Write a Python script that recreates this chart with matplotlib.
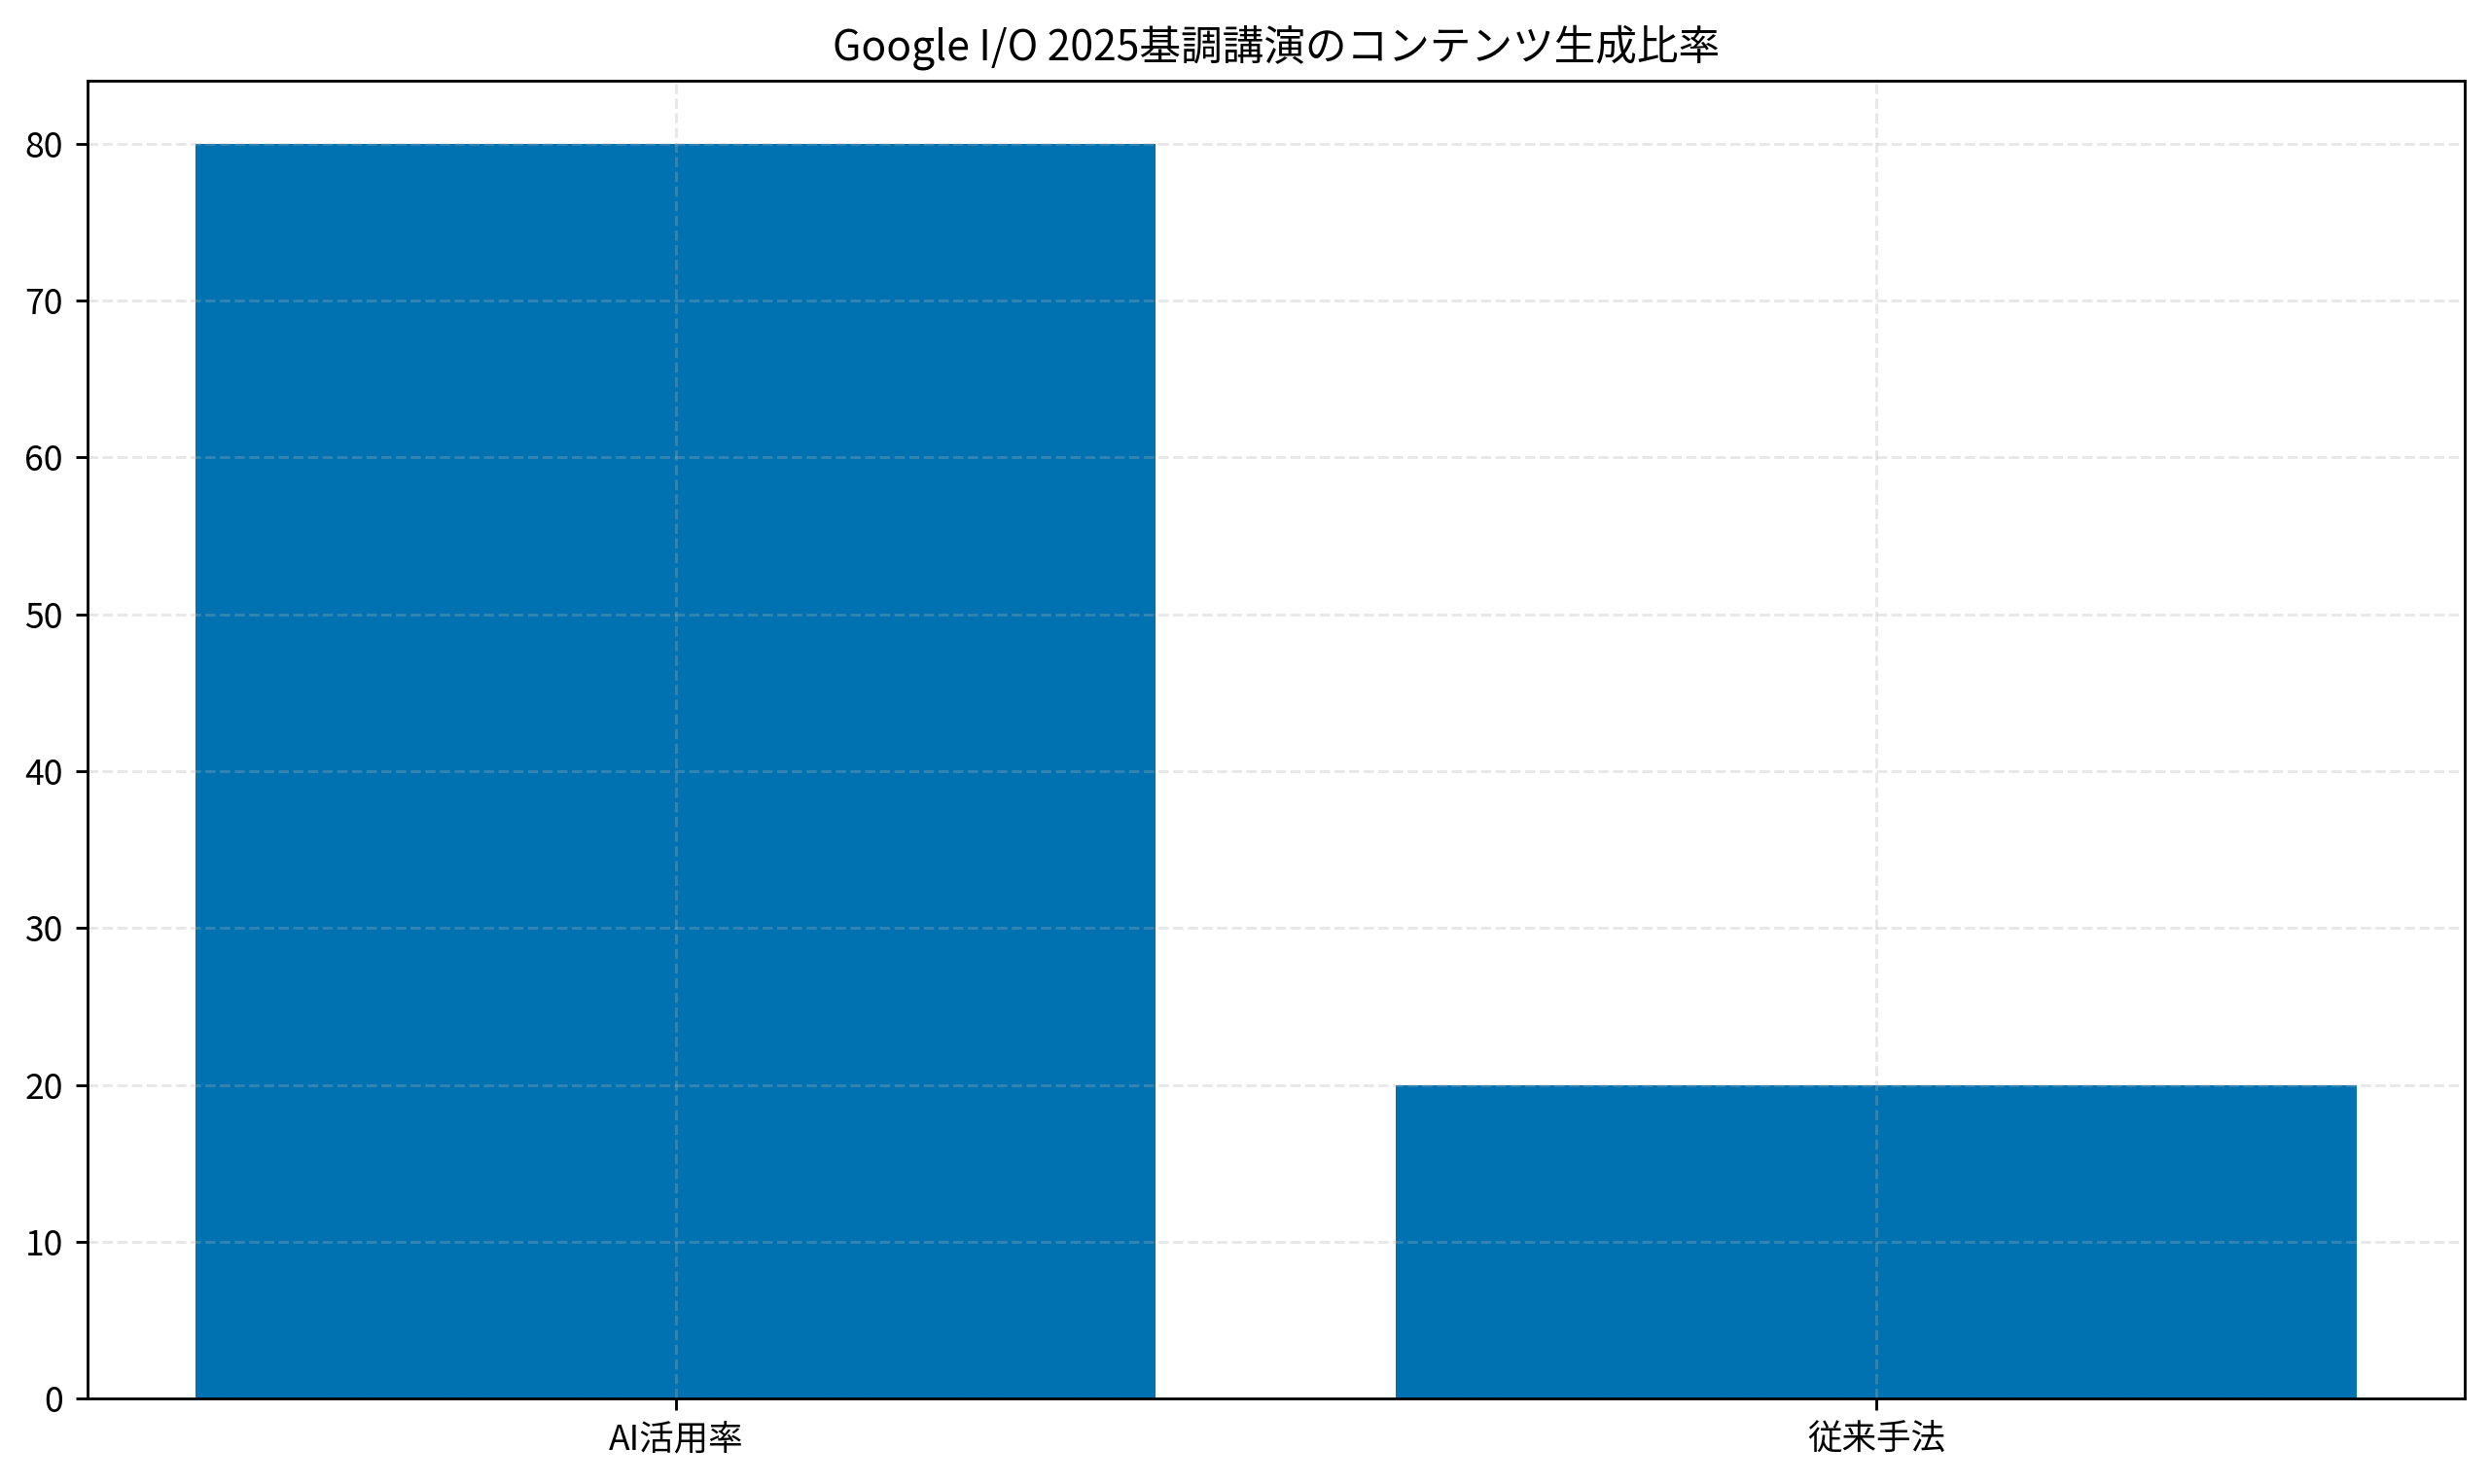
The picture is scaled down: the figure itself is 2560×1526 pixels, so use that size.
import matplotlib
matplotlib.use("Agg")
import matplotlib.pyplot as plt

plt.rcParams['font.family'] = ['Noto Sans CJK JP', 'DejaVu Sans']

categories = ["AI活用率", "従来手法"]
values = [80, 20]
title = "Google I/O 2025基調講演のコンテンツ生成比率"

fig, ax = plt.subplots(figsize=(10, 5.961), dpi=256)
ax.bar(categories, values, color="#0072B2", width=0.8)
ax.set_title(title, fontsize=12)
ax.grid(True, linestyle="--", alpha=0.3)
fig.subplots_adjust(left=0.0351, right=0.9898, top=0.9454, bottom=0.0574)
fig.savefig("out.png", dpi=256)
